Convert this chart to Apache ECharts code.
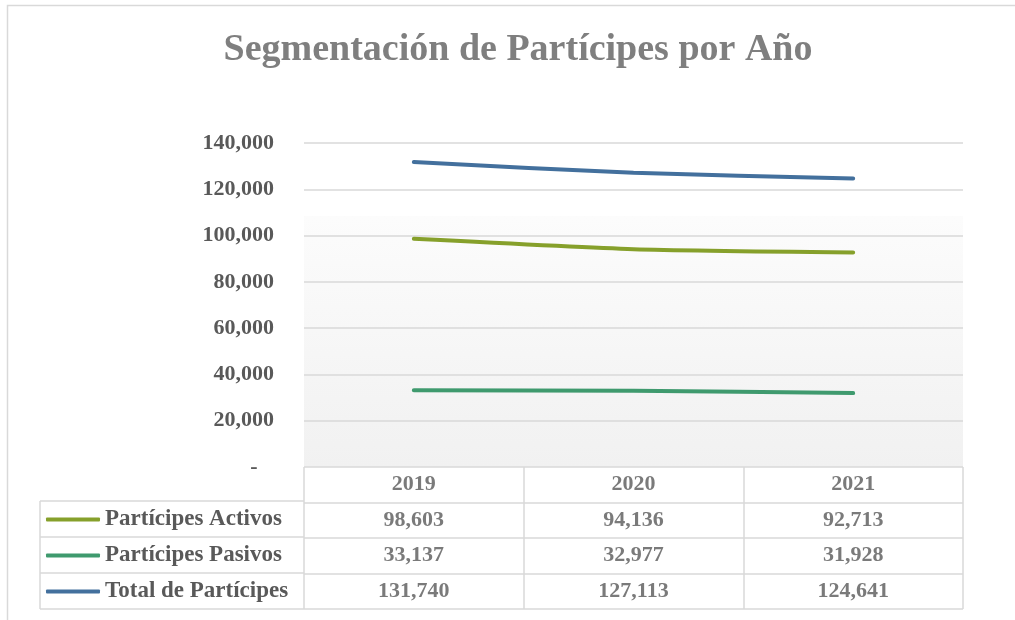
<!DOCTYPE html>
<html>
<head>
<meta charset="utf-8">
<title>Segmentación de Partícipes por Año</title>
<script src="https://cdn.jsdelivr.net/npm/echarts@6/dist/echarts.min.js"></script>
<style>
  html, body { margin: 0; padding: 0; background: #fff; }
  #chart { width: 1015px; height: 620px; }
</style>
</head>
<body>
<div id="chart"></div>
<script>
// Data
var years = ['2019', '2020', '2021'];
var seriesNames = ['Partícipes Activos', 'Partícipes Pasivos', 'Total de Partícipes'];
var activos = [98603, 94136, 92713];
var pasivos = [33137, 32977, 31928];
var total = [131740, 127113, 124641];

var colors = ['#86a02b', '#3f9a6e', '#43709d'];
var font = '"Liberation Serif", "Times New Roman", serif';
var textGray = '#595959';
var lineGray = '#d9d9d9';

function fmt(v) {
  return v.toLocaleString('en-US');
}

// table cells: [column, row, text]
var cells = [];
years.forEach(function (y, i) {
  cells.push([i, 0, y]);
  cells.push([i, 1, fmt(activos[i])]);
  cells.push([i, 2, fmt(pasivos[i])]);
  cells.push([i, 3, fmt(total[i])]);
});

var myChart = echarts.init(document.getElementById('chart'));

function lineSeries(name, data, color) {
  return {
    name: name,
    type: 'line',
    data: data,
    smooth: 0.2,
    showSymbol: false,
    symbol: 'none',
    color: color,
    lineStyle: { width: 4, color: color, cap: 'round' },
    silent: true,
    z: 5
  };
}

var option = {
  animation: false,
  backgroundColor: '#fff',
  title: {
    text: 'Segmentación de Partícipes por Año',
    left: 518,
    textAlign: 'center',
    top: 31,
    padding: 0,
    textStyle: { fontFamily: font, fontWeight: 'bold', fontSize: 38, color: '#7f7f7f' }
  },
  legend: {
    data: seriesNames,
    orient: 'vertical',
    left: 46,
    top: 508,
    padding: 0,
    icon: 'roundRect',
    itemWidth: 54,
    itemHeight: 4,
    itemGap: 13,
    selectedMode: false,
    textStyle: { fontFamily: font, fontWeight: 'bold', fontSize: 23, color: textGray }
  },
  grid: [
    {
      left: 304, right: 52, top: 143, height: 324,
      show: true, borderWidth: 0,
      backgroundColor: {
        type: 'linear', x: 0, y: 0, x2: 0, y2: 1,
        colorStops: [
          { offset: 0, color: '#ffffff' },
          { offset: 0.224, color: '#ffffff' },
          { offset: 0.226, color: '#fcfcfc' },
          { offset: 1, color: '#f1f1f1' }
        ]
      }
    },
    { left: 304, right: 52, top: 467, height: 142 }
  ],
  xAxis: [
    {
      type: 'category', gridIndex: 0, data: years, boundaryGap: true,
      axisLine: { show: false }, axisTick: { show: false }, axisLabel: { show: false },
      splitLine: { show: false }
    },
    {
      type: 'category', gridIndex: 1, data: years, boundaryGap: true,
      axisLine: { show: false }, axisTick: { show: false }, axisLabel: { show: false },
      splitLine: { show: true, interval: 0, showMinLine: true, showMaxLine: true,
        lineStyle: { color: lineGray, width: 1.5 } }
    }
  ],
  yAxis: [
    {
      type: 'value', gridIndex: 0, min: 0, max: 140000, interval: 20000,
      axisLine: { show: false }, axisTick: { show: false },
      axisLabel: {
        margin: 30,
        fontFamily: font, fontWeight: 'bold', fontSize: 22, color: textGray,
        formatter: function (v) { return v === 0 ? '-   ' : fmt(v); }
      },
      splitLine: { show: true, showMinLine: false, lineStyle: { color: lineGray, width: 1.5 } }
    },
    {
      type: 'category', gridIndex: 1, data: ['año'].concat(seriesNames), inverse: true,
      boundaryGap: true,
      axisLine: { show: false }, axisTick: { show: false }, axisLabel: { show: false },
      splitLine: { show: true, interval: 0, showMinLine: true, showMaxLine: true,
        lineStyle: { color: lineGray, width: 1.5 } }
    }
  ],
  graphic: [
    // outer chart frame (cropped at right/bottom)
    { type: 'rect', left: 5, top: 3, shape: { width: 1030, height: 640 }, silent: true,
      style: { fill: null, stroke: lineGray, lineWidth: 1.5 } },
    // left legend column of the data table
    { type: 'line', shape: { x1: 40, y1: 501, x2: 304, y2: 501 }, silent: true, style: { stroke: lineGray, lineWidth: 1.5 } },
    { type: 'line', shape: { x1: 40, y1: 537, x2: 304, y2: 537 }, silent: true, style: { stroke: lineGray, lineWidth: 1.5 } },
    { type: 'line', shape: { x1: 40, y1: 573, x2: 304, y2: 573 }, silent: true, style: { stroke: lineGray, lineWidth: 1.5 } },
    { type: 'line', shape: { x1: 40, y1: 609, x2: 304, y2: 609 }, silent: true, style: { stroke: lineGray, lineWidth: 1.5 } },
    { type: 'line', shape: { x1: 40, y1: 501, x2: 40, y2: 609 }, silent: true, style: { stroke: lineGray, lineWidth: 1.5 } }
  ],
  series: [
    lineSeries(seriesNames[0], activos, colors[0]),
    lineSeries(seriesNames[1], pasivos, colors[1]),
    lineSeries(seriesNames[2], total, colors[2]),
    {
      name: 'tabla',
      type: 'scatter',
      xAxisIndex: 1,
      yAxisIndex: 1,
      data: cells,
      symbolSize: 0,
      itemStyle: { color: 'rgba(0,0,0,0)' },
      silent: true,
      z: 10,
      label: {
        show: true,
        position: 'inside',
        fontFamily: font, fontWeight: 'bold', fontSize: 22, color: textGray,
        formatter: function (p) { return p.data[2]; }
      }
    }
  ]
};

myChart.setOption(option);
</script>
</body>
</html>
